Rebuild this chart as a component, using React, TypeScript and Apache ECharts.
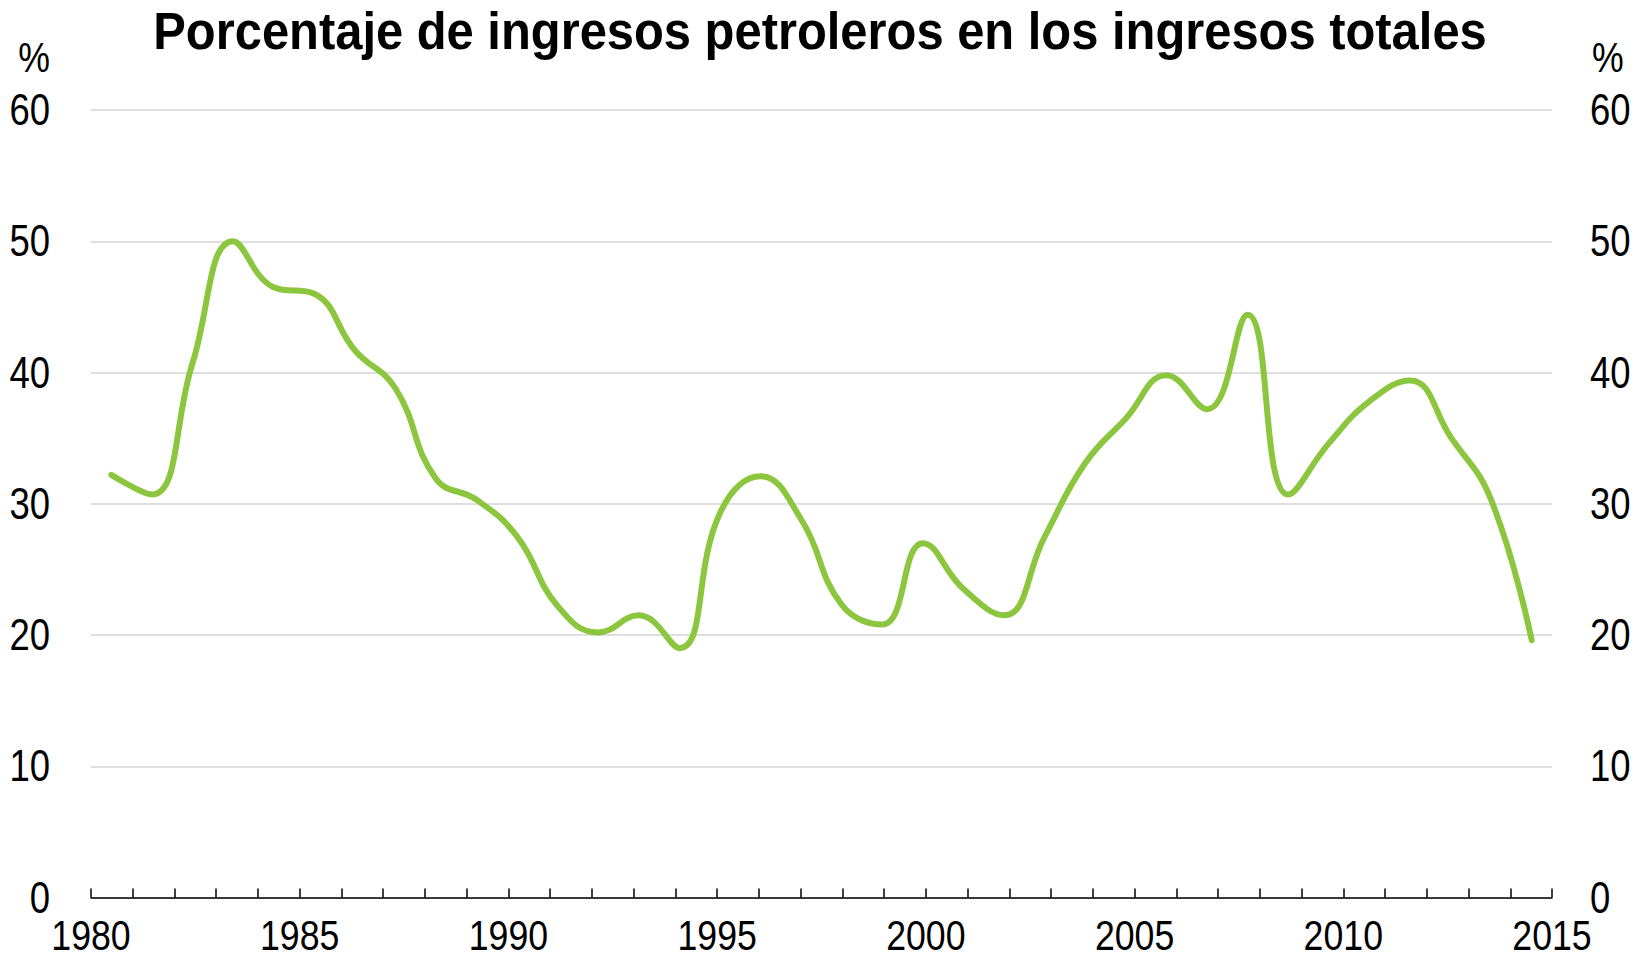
import React, { useEffect, useRef } from "react";
import * as echarts from "echarts";

const years: string[] = [
  "1980", "1981", "1982", "1983", "1984", "1985", "1986", "1987", "1988", "1989",
  "1990", "1991", "1992", "1993", "1994", "1995", "1996", "1997", "1998", "1999",
  "2000", "2001", "2002", "2003", "2004", "2005", "2006", "2007", "2008", "2009",
  "2010", "2011", "2012", "2013", "2014", "2015",
];

const oilShare: number[] = [
  32.2, 30.7, 40.7, 50.0, 46.5, 46.0, 41.7, 38.8, 31.9, 30.3,
  27.5, 22.2, 20.2, 21.5, 19.0, 29.3, 32.1, 28.8, 22.3, 20.8,
  27.0, 23.5, 21.5, 27.5, 33.1, 36.5, 39.8, 37.2, 44.4, 30.7,
  34.6, 37.8, 39.4, 35.1, 30.3, 19.6,
];

const yTickValues: number[] = [0, 10, 20, 30, 40, 50, 60];
const xTickLabels: number[] = [1980, 1985, 1990, 1995, 2000, 2005, 2010, 2015];
const yRange = { min: 0, max: 60, interval: 10 };
const xRange = { min: 1980, max: 2015, interval: 1 };

const titleText = "Porcentaje de ingresos petroleros en los ingresos totales";
const unitText = "%";

const FONT = "'Liberation Sans', Arial, sans-serif";
const LABEL_SIZE = 44;
const LABEL_SCALE = 0.83;

export default function App() {
  const ref = useRef<HTMLDivElement>(null);
  useEffect(() => {
    if (!ref.current) return;
    const chart = echarts.init(ref.current, null, { renderer: "svg" });
    chart.setOption({
      animation: false,
      backgroundColor: "#fff",
      grid: { left: 91, right: 90, top: 110, bottom: 63.5, containLabel: false },
      xAxis: [
        {
          type: "value",
          min: xRange.min,
          max: xRange.max,
          interval: xRange.interval,
          axisLine: { show: true, lineStyle: { color: "#000", width: 1.5 } },
          axisTick: { show: true, inside: true, length: 9, lineStyle: { color: "#000", width: 1.5 } },
          splitLine: { show: false },
          axisLabel: { show: false },
        },
        {
          type: "category",
          data: years,
          boundaryGap: true,
          show: false,
        },
      ],
      yAxis: [
        {
          type: "value",
          min: yRange.min,
          max: yRange.max,
          interval: yRange.interval,
          position: "left",
          axisLine: { show: false },
          axisTick: { show: false },
          splitLine: { show: true, lineStyle: { color: "#d4d4d4", width: 1.5 } },
          axisLabel: { show: false },
        },
        {
          type: "value",
          min: yRange.min,
          max: yRange.max,
          interval: yRange.interval,
          position: "right",
          axisLine: { show: false },
          axisTick: { show: false },
          splitLine: { show: false },
          axisLabel: { show: false },
        },
      ],
      series: [
        {
          type: "line",
          name: "Ingresos petroleros",
          xAxisIndex: 1,
          yAxisIndex: 0,
          data: oilShare,
          smooth: 0.45,
          showSymbol: false,
          symbol: "none",
          lineStyle: { color: "#8cc63f", width: 6, cap: "round", join: "round" },
        },
      ],
    });

    // Narrow-looking texts (Arial Narrow style) placed through the axes' own scales.
    const xLeft = chart.convertToPixel({ xAxisIndex: 0 }, xRange.min) as number;
    const xRight = chart.convertToPixel({ xAxisIndex: 0 }, xRange.max) as number;
    const yZero = chart.convertToPixel({ yAxisIndex: 0 }, yRange.min) as number;
    const yTop = chart.convertToPixel({ yAxisIndex: 0 }, yRange.max) as number;

    const txt = (text: string, x: number, y: number, align: string, vAlign: string, size: number, scale: number, bold = false, lineHeight?: number) => ({
      type: "text",
      x,
      y,
      scaleX: scale,
      silent: true,
      style: {
        text,
        fontFamily: FONT,
        fontSize: size,
        fontWeight: bold ? "bold" : "normal",
        fill: "#000",
        align,
        verticalAlign: vAlign,
        ...(lineHeight ? { lineHeight } : {}),
      },
    });

    const graphics: any[] = [];
    graphics.push(txt(titleText, 820, 5, "center", "top", 52, 0.94, true));
    graphics.push(txt(unitText, xLeft - 41, yTop - 53, "right", "middle", 43, LABEL_SCALE));
    graphics.push(txt(unitText, xRight + 40, yTop - 53, "left", "middle", 43, LABEL_SCALE));
    yTickValues.forEach((v) => {
      const py = chart.convertToPixel({ yAxisIndex: 0 }, v) as number;
      graphics.push(txt(String(v), xLeft - 41, py, "right", "middle", LABEL_SIZE, LABEL_SCALE));
      graphics.push(txt(String(v), xRight + 38, py, "left", "middle", LABEL_SIZE, LABEL_SCALE));
    });
    xTickLabels.forEach((yr) => {
      const px = chart.convertToPixel({ xAxisIndex: 0 }, yr) as number;
      graphics.push(txt(String(yr), px, yZero + 37, "center", "middle", 43, LABEL_SCALE, false, 36));
    });
    chart.setOption({ graphic: graphics });

    return () => chart.dispose();
  }, []);
  return (
    <div
      ref={ref}
      style={{ position: "fixed", left: 0, top: 0, width: 1642, height: 961, background: "#fff" }}
    />
  );
}
